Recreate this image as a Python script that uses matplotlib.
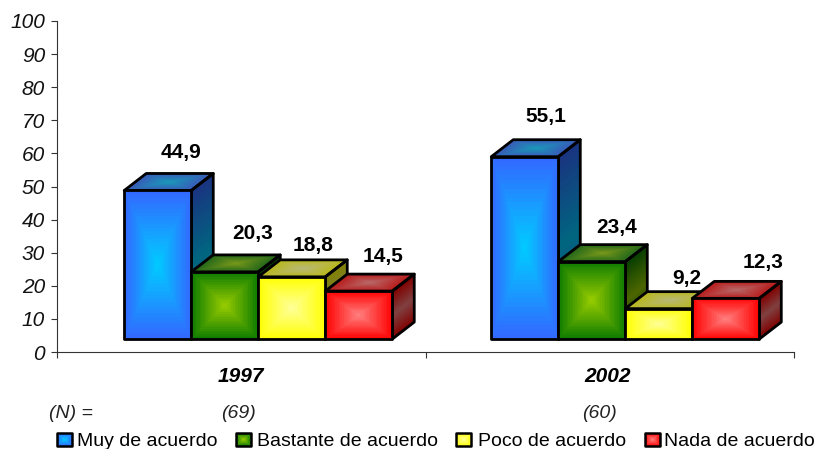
import numpy as np
from matplotlib import pyplot as plt
from matplotlib.patches import Polygon

years = ['1997', '2002']
sample_sizes = ['(69)', '(60)']
series_names = ['Muy de acuerdo', 'Bastante de acuerdo', 'Poco de acuerdo', 'Nada de acuerdo']
values_1997 = [44.9, 20.3, 18.8, 14.5]
values_2002 = [55.1, 23.4, 9.2, 12.3]
value_labels_1997 = ['44,9', '20,3', '18,8', '14,5']
value_labels_2002 = ['55,1', '23,4', '9,2', '12,3']
y_ticks = [0, 10, 20, 30, 40, 50, 60, 70, 80, 90, 100]

# (centre colour, edge colour) of the box gradient on each front face
colours = [
    ('#00CCFF', '#3366FF'),
    ('#99CC00', '#0B7A00'),
    ('#FFFF99', '#FFFF00'),
    ('#FF8080', '#FF0000'),
]

FONT = ['Liberation Sans', 'DejaVu Sans']

# Size of the 3d box, floor height and bar width, in data units
FLOOR = 3.9
DEPTH_X = 22 / 368.5
DEPTH_Y = 17 / 3.31
BAR_WIDTH = 67 / 368.5
GROUP_STARTS = [0.1825, 1.1785]

# Nudges of the value labels in pixels, they are not evenly placed in the original
LABEL_NUDGES = [[(23, 38), (28, 38), (21, 31), (24, 35)], [(21, 40), (25, 34), (28, 30), (37, 36)]]


def rgb(hex_colour):
    return np.array([int(hex_colour[i:i + 2], 16) / 255 for i in (1, 3, 5)])


def gradient_face(ax, origin, edge_u, edge_v, colour, shade=1.0, lighten=0.0, line=2.0, zorder=2, vertical=False):
    """Draws a parallelogram filled with a box gradient, centre bright and edges plain"""

    steps = 40
    u, v = np.meshgrid(np.linspace(0, 1, steps + 1), np.linspace(0, 1, steps + 1))
    x = origin[0] + u * edge_u[0] + v * edge_v[0]
    y = origin[1] + u * edge_u[1] + v * edge_v[1]

    mid_u = (u[:-1, :-1] + u[1:, 1:]) / 2
    mid_v = (v[:-1, :-1] + v[1:, 1:]) / 2
    if vertical:
        amount = 1 - np.abs(mid_v - 0.5) * 2
    else:
        amount = 1 - np.maximum(np.abs(mid_u - 0.5), np.abs(mid_v - 0.5)) * 2
    amount = amount[..., None]
    faces = rgb(colour[1]) * (1 - amount) + rgb(colour[0]) * amount
    faces = np.clip(faces * shade + lighten, 0, 1)
    ax.pcolormesh(x, y, faces, shading='flat', zorder=zorder, clip_on=False, rasterized=True)

    corners = [
        origin,
        (origin[0] + edge_u[0], origin[1] + edge_u[1]),
        (origin[0] + edge_u[0] + edge_v[0], origin[1] + edge_u[1] + edge_v[1]),
        (origin[0] + edge_v[0], origin[1] + edge_v[1]),
    ]
    ax.add_patch(Polygon(corners, closed=True, fill=False, edgecolor='black', linewidth=line,
                         joinstyle='round', zorder=zorder + 0.5, clip_on=False))


fig = plt.figure(figsize=(8.15, 4.49), dpi=100)
ax = fig.add_axes([57 / 815, 97 / 449, 737 / 815, 331 / 449])
ax.set_xlim(0, 2)
ax.set_ylim(0, 100)

# Axes
for side in ('top', 'right'):
    ax.spines[side].set_visible(False)
for side in ('left', 'bottom'):
    ax.spines[side].set_linewidth(0.8)
    ax.spines[side].set_color('#333333')
ax.set_yticks(y_ticks)
ax.set_yticklabels([str(i) for i in y_ticks], fontsize=15, fontstyle='italic', family=FONT)
ax.set_xticks([0, 1, 2])
ax.set_xticklabels([])
ax.tick_params(axis='both', length=4.5, width=0.8, pad=4, color='#333333', labelcolor='#111111')
ax.set_facecolor('none')

# Draw the boxes, left to right so each one covers the side of the last
z = 2
for group, group_values in enumerate([values_1997, values_2002]):
    labels = [value_labels_1997, value_labels_2002][group]
    for index, value in enumerate(group_values):
        left = GROUP_STARTS[group] + index * BAR_WIDTH
        top = FLOOR + value
        colour = colours[index]

        gradient_face(ax, (left + BAR_WIDTH, FLOOR), (DEPTH_X, DEPTH_Y), (0, value), colour,
                      shade=0.5, zorder=z, vertical=True)
        gradient_face(ax, (left, top), (BAR_WIDTH, 0), (DEPTH_X, DEPTH_Y), colour, shade=0.62, lighten=0.1, zorder=z)
        gradient_face(ax, (left, FLOOR), (BAR_WIDTH, 0), (0, value), colour, zorder=z + 1)
        z += 2

        nudge_x, nudge_y = LABEL_NUDGES[group][index]
        ax.annotate(labels[index], (left + BAR_WIDTH / 2, top), xytext=(nudge_x * 0.72, nudge_y * 0.72),
                    textcoords='offset points', ha='center', va='center', fontsize=15, fontweight='bold',
                    family=FONT, zorder=100)

# Everything below the axes is placed in picture pixels
overlay = fig.add_axes([0, 0, 1, 1])
overlay.set_xlim(0, 815)
overlay.set_ylim(449, 0)
overlay.axis('off')

for x, year in zip([241, 608], years):
    overlay.text(x, 376, year, ha='center', va='center', fontsize=15, fontweight='bold', fontstyle='italic', family=FONT)

overlay.text(71, 413, '(N) =', ha='center', va='center', fontsize=14, fontstyle='italic', family=FONT, color='#222222')
for x, size in zip([238, 599], sample_sizes):
    overlay.text(x, 413, size, ha='center', va='center', fontsize=14, fontstyle='italic', family=FONT, color='#222222')

# Legend
swatch_lefts = [57, 236, 456, 645]
text_lefts = [77, 257, 478, 664]
for swatch, text_left, name, colour in zip(swatch_lefts, text_lefts, series_names, colours):
    gradient_face(overlay, (swatch, 433), (15, 0), (0, 13), colour, line=1.8)
    overlay.text(text_left, 441.5, name, ha='left', va='center', fontsize=14, family=FONT)

fig.savefig('out.png', dpi=100)
